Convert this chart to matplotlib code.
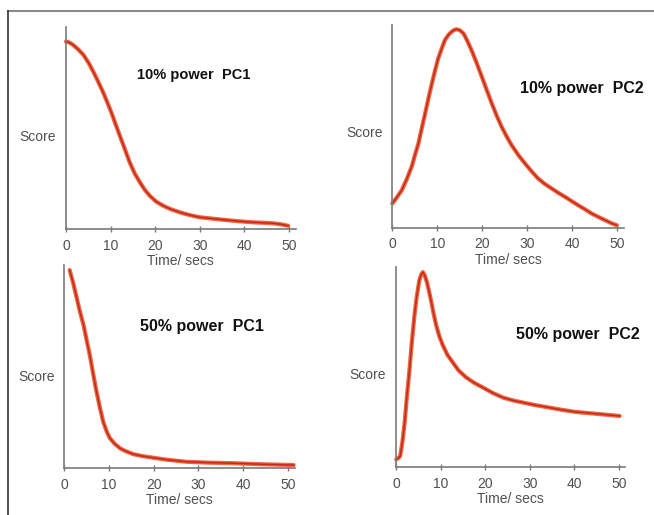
import matplotlib
matplotlib.use("Agg")
import matplotlib.pyplot as plt
from matplotlib.lines import Line2D

plt.rcParams['font.family'] = ['Liberation Sans', 'DejaVu Sans']

# ---- data: time (s) and score (arbitrary units, 0-100) ----
t_10_pc1 = [0, 0.8, 1.6, 2.7, 3.9, 5, 6.1, 7.2, 8.4, 9.3, 10.2, 11.1, 12.1, 13.2, 14.3,
            15.4, 16.6, 17.7, 18.8, 20.2, 21.8, 23.5, 25.6, 27.7, 30, 33, 36, 39, 42,
            44.3, 46.5, 48.3, 49.8]
s_10_pc1 = [92.8, 92.3, 91.1, 89, 86.2, 82.5, 78, 73, 67.3, 62.5, 57.5, 52, 46, 39.5, 32.9,
            27.5, 23, 19.3, 16.4, 13.6, 11.5, 9.8, 8.2, 6.9, 5.8, 5.1, 4.4, 3.8, 3.3,
            3.1, 2.8, 2.3, 1.6]

t_10_pc2 = [0, 1, 2.1, 3.2, 4.3, 5, 5.8, 6.5, 7.3, 8, 8.8, 9.5, 10.2, 11, 11.7, 12.5,
            13.2, 13.8, 14.3, 15, 15.8, 16.6, 17.6, 18.7, 19.9, 21, 22.1, 23.2, 24.3, 25.4,
            26.5, 28, 29.5, 31, 32.4, 33.9, 35.4, 36.9, 38.4, 39.8, 41.3, 42.8, 44.3, 45.8,
            47.3, 48.6, 49.9]
s_10_pc2 = [11.9, 14.8, 18.4, 23.8, 30, 35.5, 41.5, 48.5, 56.4, 63.5, 71.2, 77.5, 83.5, 88.5,
            92.6, 95.2, 96.7, 97.6, 97.9, 97.4, 95.9, 92.5, 87.6, 81.5, 74.4, 67.8, 61.3, 55.2,
            49.7, 45, 40.7, 35.8, 31.6, 27.6, 24.2, 21.5, 19.3, 17.1, 15.1, 13.1, 11, 9, 6.9,
            5.2, 3.6, 2.2, 1.1]

t_50_pc1 = [1.2, 2, 2.8, 3.5, 4.3, 5, 5.7, 6.5, 7.2, 8, 8.7, 9.5, 10.2, 11.3, 12.5, 13.2,
            14, 15.5, 17.5, 19.9, 23, 27.4, 32, 37.8, 44, 51.3]
s_50_pc1 = [97.5, 91, 83.6, 77, 70.5, 63, 55.7, 46, 37.7, 29.5, 22.9, 18, 14.8, 12, 9.8, 9,
            8.2, 6.9, 6, 5.2, 4.2, 3.2, 2.8, 2.5, 2.0, 1.6]

t_50_pc2 = [0, 0.4, 0.9, 1.4, 1.9, 2.4, 3, 3.5, 4.1, 4.6, 5.2, 5.6, 6, 6.4, 6.9, 7.4,
            7.9, 8.4, 9, 9.7, 10.5, 11.5, 12.7, 14, 15.7, 17.5, 19.5, 21.6, 24, 26.2, 28.5,
            31.3, 34.4, 37.4, 40.4, 43.4, 46.4, 48.3, 50.2]
s_50_pc2 = [3.7, 4.2, 5.4, 12.5, 22.1, 35, 48.8, 62, 75.6, 85, 93.2, 96, 97.3, 95.7, 92.3,
            87.5, 82.3, 76.5, 70.6, 65.2, 60.6, 56, 52.2, 48.2, 44.7, 42, 39.6, 37, 34.6,
            33.2, 32.1, 30.8, 29.6, 28.4, 27.4, 26.8, 26.2, 25.8, 25.4]

titles = ["10% power  PC1", "10% power  PC2", "50% power  PC1", "50% power  PC2"]
x_ticks = [0, 10, 20, 30, 40, 50]

W, H = 654, 515
fig = plt.figure(figsize=(W / 100, H / 100), dpi=100)


def fx(px):
    return px / W


def fy(py):
    return 1 - py / H


# panel geometry in pixels: (left, baseline, top, px per second)
panels = [
    (66.0, 229.0, 27.0, 4.46),
    (392.3, 227.5, 25.0, 4.50),
    (64.3, 468.3, 265.0, 4.47),
    (396.2, 466.8, 266.7, 4.45),
]
series = [(t_10_pc1, s_10_pc1), (t_10_pc2, s_10_pc2),
          (t_50_pc1, s_50_pc1), (t_50_pc2, s_50_pc2)]
title_pos = [(194, 75, 10.5), (582, 88, 11.5), (202, 327, 11.5), (578, 335, 11.5)]
score_pos = [(38, 137), (365, 133), (37, 377), (368, 375)]

axis_grey = '#7a7a7a'
for (left, base, top, pps), (t, s), (tx, ty, tfs), (sx, sy), title in zip(
        panels, series, title_pos, score_pos, titles):
    xmax = 51.5
    ax = fig.add_axes([fx(left), fy(base), fx(xmax * pps), (base - top) / H])
    ax.set_xlim(0, xmax)
    ax.set_ylim(0, 100)
    ax.patch.set_visible(False)
    for side in ('top', 'right'):
        ax.spines[side].set_visible(False)
    for side in ('left', 'bottom'):
        ax.spines[side].set_color(axis_grey)
        ax.spines[side].set_linewidth(1.2)
    ax.set_yticks([])
    ax.set_xticks(x_ticks)
    ax.tick_params(axis='x', direction='inout', length=4, width=1, color=axis_grey,
                   labelsize=10, labelcolor='#505050', pad=5)
    ax.set_xlabel('Time/ secs', fontsize=10, color='#505050', labelpad=1)
    ax.plot(t, s, color='#f0643f', lw=3.0, solid_capstyle='round',
            solid_joinstyle='round', clip_on=False)
    ax.plot(t, s, color='#c42a1c', lw=1.1, solid_joinstyle='round', clip_on=False)
    fig.text(fx(tx), fy(ty), title, fontsize=tfs, fontweight='bold',
             ha='center', va='center', color='#111111')
    fig.text(fx(sx), fy(sy), 'Score', fontsize=10, ha='center', va='center',
             color='#505050')

# frame lines along the top and left edge
fig.add_artist(Line2D([fx(8), 1], [fy(10.5), fy(10.5)], transform=fig.transFigure,
                      color='#8a8a8a', lw=1.5))
fig.add_artist(Line2D([fx(8), fx(8)], [fy(10.5), 0], transform=fig.transFigure,
                      color='#333333', lw=1.2))

fig.savefig('out.png', dpi=100)
